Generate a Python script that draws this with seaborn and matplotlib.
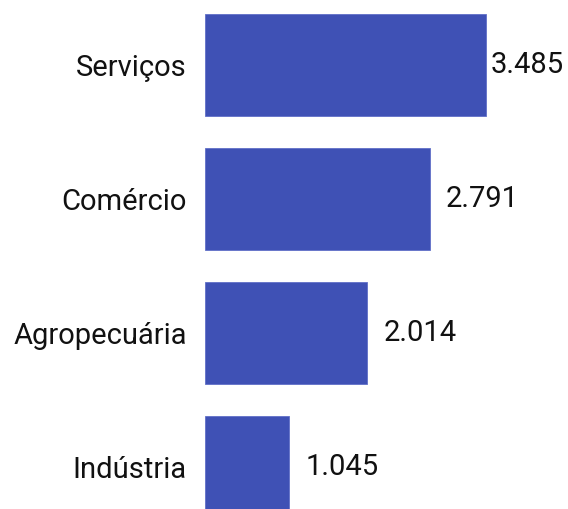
import matplotlib.pyplot as plt
import pandas as pd
import seaborn as sns

# dados do gráfico
setores = ['Serviços', 'Comércio', 'Agropecuária', 'Indústria']
valores = [3.485, 2.791, 2.014, 1.045]
rotulos = ['3.485', '2.791', '2.014', '1.045']

COR = '#3F51B5'

sns.set_style('white')
plt.rcParams['font.family'] = ['Roboto', 'DejaVu Sans']

df = pd.DataFrame({'setor': setores, 'valor': valores})

DPI = 100
fig = plt.figure(figsize=(5.68, 5.09), dpi=DPI)
ax = fig.add_axes([205 / 568, 0, 363 / 568, 1])

sns.barplot(data=df, x='valor', y='setor', color=COR, width=0.76,
            saturation=1, edgecolor='#6070C8', linewidth=0.6, ax=ax)

ax.set_xlim(0, 363 / 80.6)
ax.set_ylim(3.313, -0.485)
ax.set_xlabel('')
ax.set_ylabel('')
ax.set_xticks([])
ax.tick_params(axis='y', length=0, pad=13, labelsize=21, labelcolor='#111111')
sns.despine(ax=ax, left=True, bottom=True, top=True, right=True)

# rótulos de valor, mantidos dentro da área do gráfico
limite = 555  # px, borda direita máxima do texto
textos = []
for i, (v, r) in enumerate(zip(valores, rotulos)):
    t = ax.annotate(r, xy=(v, i), xytext=(11.5, 0), textcoords='offset points',
                    ha='left', va='center', fontsize=21, color='#111111')
    textos.append(t)

fig.canvas.draw()
rend = fig.canvas.get_renderer()
for t in textos:
    bb = t.get_window_extent(rend)
    if bb.x1 > limite:
        dx = (bb.x1 - limite) * 72 / DPI
        x0, y0 = t.xyann
        t.xyann = (max(x0 - dx, 3.5), y0)

fig.savefig('out.png', dpi=DPI)
